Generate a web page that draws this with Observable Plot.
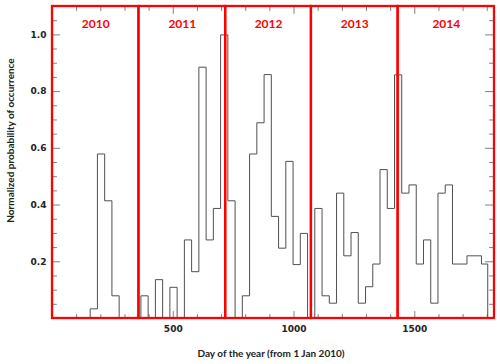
<!DOCTYPE html>
<html><head><meta charset="utf-8">
<script src="https://cdn.jsdelivr.net/npm/d3@7"></script>
<script src="https://cdn.jsdelivr.net/npm/@observablehq/plot@0.6"></script>
<style>body{margin:0;background:#fff}</style>
</head><body><div id="chart"></div>
<script>
// Histogram bins (start day since 1 Jan 2010) and normalized probability
const binStart = [6,36,66,96,126,156,186,216,246,276,306,336,366,396,426,456,486,516,546,576,
  606,636,666,696,726,756,786,816,846,876,906,936,966,996,1026,1056,1086,1116,1146,1176,
  1206,1236,1266,1296,1326,1356,1386,1416,1446,1476,1506,1536,1566,1596,1626,1656,1686,1716,1746,1776];
const prob = [0,0,0,0,0,0.034,0.58,0.415,0.08,0,0,0,0.08,0,0.137,0,0.11,0,0.277,0.165,
  0.886,0.277,0.388,1.0,0.415,0,0.08,0.58,0.69,0.86,0.36,0.248,0.554,0.19,0.30,0,0.388,0.08,0.054,0.442,
  0.221,0.303,0.054,0.112,0.192,0.525,0.388,0.859,0.442,0.471,0.192,0.277,0.054,0.442,0.471,0.192,0.192,0.221,0.221,0.192];
const lastBinEnd = 1802;

const years = ["2010","2011","2012","2013","2014"];
const yearStart = [0,358,717,1072,1431];
const yearEnd = [358,717,1072,1431,1830];

const xTickLabels = [500,1000,1500];
const xMinorTicks = [100,200,300,400,600,700,800,900,1100,1200,1300,1400,1600,1700,1800];
const yTickLabels = [0.2,0.4,0.6,0.8,1.0];
const yMinorTicks = [0.05,0.1,0.15,0.25,0.3,0.35,0.45,0.5,0.55,0.65,0.7,0.75,0.85,0.9,0.95,1.05];

const xTitle = "Day of the year (from 1 Jan 2010)";
const yTitle = "Normalized probability of occurrence";

const pts = binStart.map((s, i) => ({x: s, y: prob[i]}));
pts.push({x: lastBinEnd, y: prob[prob.length - 1]});
pts.push({x: lastBinEnd, y: 0});

const tickShape = {draw(ctx, l) { ctx.moveTo(0, 0); ctx.lineTo(0, -l); }};
const tickColor = "#808080";
function ticks(values, ch, anchor, rot, len) {
  const o = {frameAnchor: anchor, rotate: rot, length: len, anchor: "start", shape: tickShape, stroke: tickColor, strokeWidth: 1};
  o[ch] = d => d;
  return Plot.vector(values, o);
}

const labelFont = "DejaVu Sans";
const titleFont = "Lato";

const chart = Plot.plot({
  width: 500,
  height: 364,
  marginLeft: 52,
  marginRight: 6,
  marginTop: 6,
  marginBottom: 46,
  x: {domain: [0, 1830], axis: null},
  y: {domain: [0, 1.1], axis: null},
  style: {background: "#fff", overflow: "visible"},
  marks: [
    ticks(xMinorTicks, "x", "bottom", 0, 4),
    ticks(xTickLabels, "x", "bottom", 0, 7),
    ticks(xMinorTicks, "x", "top", 180, 4),
    ticks(xTickLabels, "x", "top", 180, 7),
    ticks(yMinorTicks, "y", "left", 90, 4),
    ticks(yTickLabels, "y", "left", 90, 7),
    ticks(yMinorTicks, "y", "right", -90, 5),
    ticks(yTickLabels, "y", "right", -90, 9),
    Plot.line(pts, {x: "x", y: "y", curve: "step-after", stroke: "#505050", strokeWidth: 1}),
    Plot.rect(years, {x1: (d, i) => yearStart[i], x2: (d, i) => yearEnd[i], stroke: "#ff0000", strokeWidth: 2.3, fill: "none"}),
    Plot.text(years, {x: (d, i) => (yearStart[i] + yearEnd[i]) / 2, frameAnchor: "top", dy: 18, lineAnchor: "middle",
      text: d => d, fill: "#ff0000", fontWeight: "bold", fontSize: 12, fontFamily: titleFont}),
    Plot.text(xTickLabels, {x: d => d, frameAnchor: "bottom", dy: 11, lineAnchor: "middle", text: d => String(d),
      fontWeight: "bold", fontSize: 9, fontFamily: labelFont, fill: "#222"}),
    Plot.text(yTickLabels, {y: d => d, frameAnchor: "left", dx: -6, textAnchor: "end", lineAnchor: "middle", text: d => d.toFixed(1),
      fontWeight: "bold", fontSize: 9, fontFamily: labelFont, fill: "#222"}),
    Plot.text([xTitle], {frameAnchor: "bottom", dx: -2.5, dy: 35, textAnchor: "middle", lineAnchor: "middle", text: d => d,
      fontWeight: "bold", fontSize: 10, fontFamily: titleFont, fill: "#222"}),
    Plot.text([yTitle], {frameAnchor: "left", dx: -42, dy: -22, rotate: -90, textAnchor: "middle", lineAnchor: "middle", text: d => d,
      fontWeight: "bold", fontSize: 10, fontFamily: titleFont, fill: "#222"})
  ]
});
document.getElementById("chart").append(chart);
</script>
</body></html>
